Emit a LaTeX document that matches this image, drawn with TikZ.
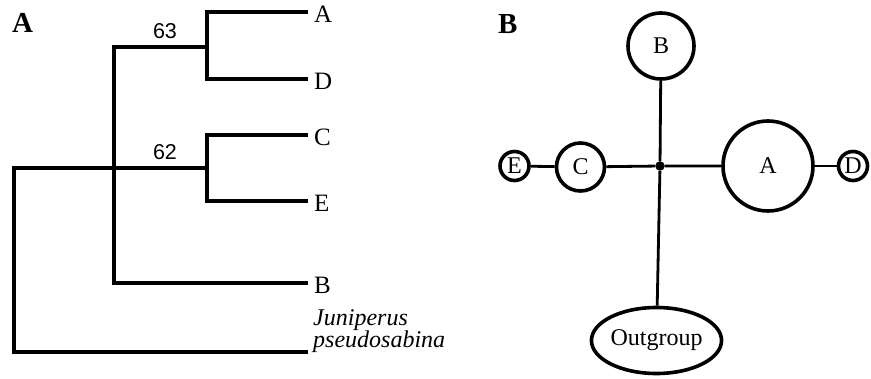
\documentclass[tikz,border=0pt]{standalone}
\usepackage{fontspec}
\usetikzlibrary{shapes.geometric}
\setmainfont{Liberation Serif}
\newfontfamily\labelsans{Liberation Sans}
\begin{document}
\begin{tikzpicture}[x=1pt,y=-1pt,
  branch/.style={line width=3.3pt,line cap=rect},
  edge/.style={line width=2.8pt},
  taxon/.style={anchor=base west,inner sep=0pt,font=\fontsize{25}{25}\selectfont},
  support/.style={anchor=base,inner sep=0pt,font=\labelsans\fontsize{21.5}{21.5}\selectfont},
  panel/.style={anchor=base west,inner sep=0pt,font=\bfseries\fontsize{29}{29}\selectfont},
  hap/.style={circle,draw,line width=3.6pt,inner sep=0pt,font=\fontsize{24}{24}\selectfont},
]
\useasboundingbox (0,0) rectangle (871,379);

% ---------- panel A: tree ----------
\node[panel] (pa) at (12,33) {A};

\coordinate (root) at (14,168);
\coordinate (rootlow) at (14,352);
\coordinate (innt) at (114,47);
\coordinate (innb) at (114,283);
\coordinate (c63) at (207,47);
\coordinate (c63t) at (207,12);
\coordinate (c63b) at (207,79);
\coordinate (c62) at (207,168);
\coordinate (c62t) at (207,135);
\coordinate (c62b) at (207,201);
\coordinate (tA) at (306,12);
\coordinate (tD) at (306,79);
\coordinate (tC) at (306,135);
\coordinate (tE) at (306,201);
\coordinate (tB) at (306,283);
\coordinate (tJ) at (306,352);

\draw[branch] (root) -- (c62);
\draw[branch] (root) -- (rootlow) -- (tJ);
\draw[branch] (innt) -- (innb) -- (tB);
\draw[branch] (innt) -- (c63);
\draw[branch] (tA) -- (c63t) -- (c63b) -- (tD);
\draw[branch] (tC) -- (c62t) -- (c62b) -- (tE);

\node[taxon] (lA) at (314,23) {A};
\node[taxon] (lD) at (314,90) {D};
\node[taxon] (lC) at (314,146) {C};
\node[taxon] (lE) at (314,212) {E};
\node[taxon] (lB) at (314,294) {B};
\node[taxon,align=left,font=\itshape\fontsize{24}{18}\selectfont] (lJ) at (313,348)
  {Juniperus\\pseudosabina};

\node[support] (s63) at (165,38.5) {63};
\node[support] (s62) at (165,160) {62};

% ---------- panel B: haplotype network ----------
\node[panel] (pb) at (498,34) {B};

\node[circle,fill,inner sep=0pt,minimum size=9.5pt] (hub) at (660,166) {};
\node[hap,minimum size=66pt] (hB) at (661,46) {B};
\node[hap,minimum size=48pt] (hC) at (580.5,167) {C};
\node[hap,minimum size=29pt] (hE) at (514.5,166) {E};
\node[hap,minimum size=90pt] (hA) at (768,166) {A};
\node[hap,minimum size=29pt] (hD) at (853,166) {D};
\node[ellipse,draw,line width=3.6pt,inner sep=0pt,minimum width=104pt,minimum height=66pt,
  font=\fontsize{24}{24}\selectfont] (hO) at (656.5,340.5) {Outgroup};

\draw[edge] (hB) -- (hub) -- (hO);
\draw[edge] (hC) -- (hub) -- (hA);
\draw[edge] (hE) -- (hC);
\draw[edge] (hA) -- (hD);
\end{tikzpicture}
\end{document}
